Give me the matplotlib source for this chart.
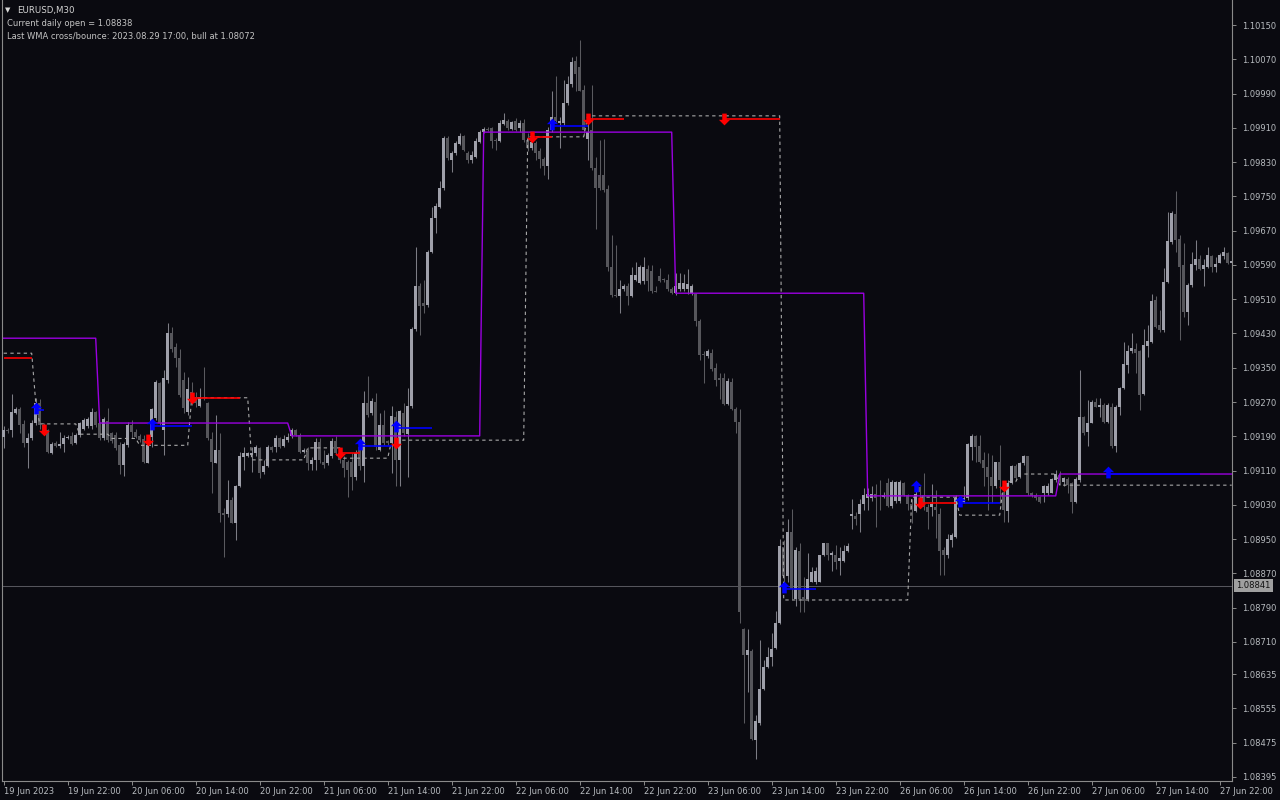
import numpy as np
import matplotlib
matplotlib.use("Agg")
import matplotlib.pyplot as plt
from matplotlib.path import Path

# ---------------- data (prices in points: price = 1 + pts / 1e5) ----------------
open_pts = [
 9189,9205,9205,9245,9254,9218,9175,9185,9222,9267,9216,9205,9152,9175,9168,9172,9185,9191,9175,9193,
 9208,9214,9214,9247,9220,9185,9226,9198,9193,9170,9123,9170,9216,9201,9191,9183,9128,9189,9232,9314,
 9205,9321,9432,9399,9372,9321,9247,9294,9282,9261,9281,9267,9183,9128,9159,9010,9008,9041,8988,9074,
 9141,9144,9146,9152,9162,9107,9121,9164,9166,9185,9167,9181,9190,9205,9193,9154,9156,9125,9135,9177,
 9131,9127,9143,9180,9151,9135,9131,9131,9096,9166,9120,9267,9244,9269,9158,9217,9178,9174,9236,9135,
 9244,9196,9260,9440,9540,9502,9497,9621,9699,9726,9769,9886,9835,9851,9873,9891,9851,9835,9843,9878,
 9900,9908,9909,9880,9880,9919,9927,9908,9927,9909,9921,9882,9862,9874,9855,9837,9820,9905,9935,9921,
 9921,9968,10012,10065,10053,9999,9883,9905,9816,9800,9800,9767,9585,9520,9518,9533,9540,9518,9555,9547,
 9552,9580,9575,9530,9565,9556,9555,9535,9524,9535,9535,9535,9524,9522,9459,9381,9378,9385,9349,9327,
 9327,9266,9317,9254,9224,8740,8679,8689,8481,8522,8600,8651,8674,8696,8755,8932,8863,8967,8810,8922,
 8816,8810,8851,8849,8851,8912,8940,8912,8912,8900,8900,8922,9003,9005,9008,9031,9045,9045,9056,9049,
 9048,9082,9028,9038,9038,9082,9052,9031,9015,9071,9052,9025,9025,9025,9008,8924,8912,8948,8956,9045,
 9037,9045,9166,9191,9167,9135,9119,9096,9074,9129,9060,9016,9080,9121,9096,9127,9143,9058,9053,9048,
 9057,9057,9058,9088,9100,9084,9090,9080,9037,9088,9234,9199,9222,9269,9259,9263,9224,9259,9167,9258,
 9302,9356,9388,9393,9388,9289,9401,9409,9508,9450,9437,9551,9644,9709,9650,9590,9481,9543,9590,9605,
 9580,9586,9611,9586,9595,9611,9617,9595]
high_pts = [
 9214,9210,9288,9258,9259,9228,9197,9228,9279,9277,9222,9208,9177,9180,9201,9193,9192,9201,9197,9224,
 9232,9234,9255,9250,9224,9236,9255,9201,9201,9177,9177,9224,9228,9208,9195,9193,9193,9255,9321,9317,
 9345,9455,9446,9407,9393,9341,9329,9317,9294,9302,9352,9271,9201,9240,9198,9022,9088,9049,9076,9154,
 9166,9154,9166,9170,9166,9135,9170,9168,9193,9189,9193,9197,9210,9208,9197,9162,9166,9141,9185,9185,
 9158,9151,9186,9190,9155,9143,9135,9151,9158,9172,9295,9331,9280,9291,9244,9252,9182,9260,9248,9252,
 9267,9302,9446,9633,9547,9555,9625,9726,9734,9785,9890,9890,9855,9880,9897,9894,9855,9855,9886,9905,
 9913,9912,9913,9886,9929,9944,9930,9927,9932,9929,9930,9897,9880,9880,9862,9843,9913,9997,10030,9936,
 10022,10030,10076,10078,10115,10010,9929,10010,9843,9882,9883,9777,9660,9637,9555,9545,9547,9586,9596,9590,
 9608,9590,9590,9540,9582,9560,9570,9538,9572,9572,9570,9580,9545,9524,9464,9388,9393,9393,9362,9337,
 9337,9327,9327,9258,9254,8742,8740,8694,8539,8714,8669,8699,8730,8782,8950,8947,8998,9021,8932,8942,
 8861,8917,8886,8886,8914,8942,8942,8922,8937,8932,8937,8940,9043,9013,9043,9069,9069,9074,9079,9089,
 9060,9092,9089,9086,9089,9084,9056,9043,9079,9075,9104,9033,9079,9064,9023,8932,8962,8964,9053,9053,
 9073,9175,9195,9193,9193,9154,9152,9146,9131,9170,9076,9088,9123,9125,9131,9146,9144,9061,9057,9051,
 9076,9080,9092,9111,9108,9096,9096,9084,9096,9345,9237,9275,9275,9279,9279,9267,9267,9267,9263,9306,
 9409,9403,9430,9407,9391,9440,9450,9522,9518,9485,9582,9714,9717,9763,9660,9642,9547,9621,9648,9613,
 9605,9631,9613,9609,9617,9633,9621,9604]
low_pts = [
 9162,9198,9189,9242,9197,9166,9115,9181,9216,9208,9195,9150,9149,9164,9162,9154,9183,9170,9172,9189,
 9205,9210,9208,9212,9181,9181,9177,9175,9158,9103,9097,9166,9185,9185,9177,9127,9127,9165,9228,9216,
 9146,9314,9387,9352,9282,9244,9240,9263,9259,9259,9275,9181,9057,9127,8991,8909,9002,8987,8948,9072,
 9111,9141,9107,9143,9092,9103,9119,9154,9154,9162,9166,9177,9187,9190,9150,9150,9111,9111,9111,9127,
 9116,9124,9139,9147,9127,9096,9048,9065,9088,9112,9084,9236,9240,9158,9155,9170,9170,9104,9073,9073,
 9190,9096,9256,9435,9427,9477,9493,9617,9664,9722,9765,9835,9808,9847,9870,9855,9827,9827,9839,9874,
 9897,9903,9862,9859,9878,9917,9905,9905,9902,9901,9878,9855,9859,9835,9816,9800,9790,9901,9923,9862,
 9917,9964,10006,9995,9995,9894,9835,9812,9673,9765,9761,9577,9516,9516,9477,9530,9497,9516,9552,9545,
 9545,9529,9524,9527,9550,9550,9529,9522,9519,9529,9529,9522,9519,9448,9367,9315,9373,9342,9307,9278,
 9264,9264,9252,9197,8755,8522,8593,8481,8436,8517,8598,8649,8654,8694,8752,8846,8851,8810,8795,8780,
 8780,8805,8849,8846,8849,8910,8902,8876,8881,8866,8897,8920,8973,8983,8967,9018,9018,9038,8978,9018,
 9045,9026,9023,9035,9035,9050,9018,8988,9013,9050,9018,8973,9003,8952,8866,8866,8907,8932,8952,9035,
 9034,9041,9135,9131,9127,9073,9018,9034,9069,9034,8991,8991,9079,9090,9092,9123,9053,9049,9041,9035,
 9037,9053,9057,9084,9076,9073,9057,9010,9035,9084,9193,9167,9220,9258,9236,9220,9220,9162,9154,9240,
 9300,9337,9384,9337,9251,9286,9376,9407,9442,9434,9434,9547,9640,9621,9415,9469,9450,9539,9578,9578,
 9541,9584,9574,9574,9594,9605,9592,9592]
close_pts = [
 9205,9203,9247,9254,9216,9175,9187,9222,9267,9216,9200,9154,9173,9168,9173,9187,9189,9173,9193,9220,
 9228,9230,9247,9216,9185,9230,9181,9179,9163,9123,9172,9216,9201,9189,9181,9131,9170,9253,9317,9222,
 9325,9432,9393,9372,9286,9255,9300,9271,9267,9281,9279,9187,9131,9159,9010,9006,9041,8988,9074,9144,
 9150,9150,9152,9164,9105,9121,9164,9158,9185,9166,9183,9189,9205,9193,9154,9158,9127,9135,9177,9135,
 9122,9147,9180,9151,9135,9116,9112,9095,9151,9120,9267,9240,9273,9166,9217,9174,9174,9238,9135,9248,
 9197,9261,9440,9540,9494,9494,9621,9699,9728,9769,9886,9839,9851,9874,9891,9859,9835,9847,9880,9900,
 9908,9906,9880,9879,9921,9929,9909,9923,9905,9921,9882,9862,9876,9852,9837,9820,9905,9936,9925,9926,
 9968,10013,10063,10036,9997,9905,9901,9817,9769,9769,9765,9585,9520,9518,9533,9540,9518,9567,9567,9586,
 9585,9552,9529,9528,9552,9555,9535,9524,9540,9548,9548,9545,9540,9459,9380,9380,9388,9347,9322,9322,
 9266,9319,9254,9224,8780,8679,8691,8484,8525,8600,8651,8676,8694,8755,8934,8863,8967,8833,8924,8810,
 8805,8856,8873,8876,8912,8940,8912,8917,8897,8907,8922,8934,9008,8998,9031,9054,9056,9056,9045,9048,
 9054,9028,9084,9084,9084,9052,9033,9018,9056,9059,9025,9013,9033,9018,8922,8912,8950,8960,9045,9041,
 9045,9172,9191,9166,9131,9115,9096,9074,9129,9088,9018,9082,9121,9092,9127,9143,9057,9051,9045,9037,
 9073,9074,9090,9102,9084,9092,9076,9037,9090,9234,9197,9222,9269,9259,9263,9224,9263,9167,9259,9302,
 9359,9388,9395,9385,9286,9403,9413,9507,9446,9438,9551,9647,9712,9648,9586,9481,9543,9592,9604,9580,
 9590,9613,9586,9592,9613,9621,9595,9600]

# time axis labels (one every 8 hours = 16 bars of M30)
time_labels = ["19 Jun 2023", "19 Jun 22:00", "20 Jun 06:00", "20 Jun 14:00", "20 Jun 22:00",
               "21 Jun 06:00", "21 Jun 14:00", "21 Jun 22:00", "22 Jun 06:00", "22 Jun 14:00",
               "22 Jun 22:00", "23 Jun 06:00", "23 Jun 14:00", "23 Jun 22:00", "26 Jun 06:00",
               "26 Jun 14:00", "26 Jun 22:00", "27 Jun 06:00", "27 Jun 14:00", "27 Jun 22:00"]
bars_per_label = 16

price_ticks = [1.10150, 1.10070, 1.09990, 1.09910, 1.09830, 1.09750, 1.09670, 1.09590,
               1.09510, 1.09430, 1.09350, 1.09270, 1.09190, 1.09110, 1.09030, 1.08950,
               1.08870, 1.08790, 1.08710, 1.08635, 1.08555, 1.08475, 1.08395]

# indicator levels: (first bar, last bar, level in points)
purple_segments = [(0, 23, 9419), (24, 71, 9221), (72, 119, 9191), (120, 167, 9900),
                   (168, 215, 9524), (216, 263, 9051), (264, 307, 9102)]
dashed_segments = [(0, 7, 9384), (8, 8, 9270), (9, 18, 9219), (19, 26, 9195), (27, 33, 9185),
                   (34, 46, 9169), (47, 61, 9280), (62, 75, 9135), (76, 84, 9163), (85, 96, 9139),
                   (97, 130, 9181), (131, 145, 9889), (146, 194, 9938), (195, 226, 8808),
                   (227, 238, 9048), (239, 249, 9006), (250, 253, 9084), (254, 263, 9102),
                   (264, 307, 9076)]
red_lines = [(0, 7, 9372), (47, 59, 9279), (84, 89, 9152), (132, 137, 9889), (146, 155, 9930),
             (180, 194, 9930), (229, 238, 9035)]
red_arrows = [(10, 9205), (36, 9181), (47, 9279), (84, 9152), (98, 9174), (132, 9889),
              (146, 9930), (180, 9930), (229, 9035), (250, 9074)]
blue_lines = [(8, 10, 9251), (37, 47, 9215), (89, 97, 9167), (98, 107, 9209), (137, 146, 9914),
              (195, 203, 8834), (239, 249, 9034), (276, 299, 9103)]
blue_arrows = [(8, 9251), (37, 9215), (89, 9167), (98, 9209), (137, 9914), (195, 8834),
               (228, 9069), (239, 9034), (276, 9103)]

current_price = 1.08841
header_lines = ["EURUSD,M30", "Current daily open = 1.08838",
                "Last WMA cross/bounce: 2023.08.29 17:00, bull at 1.08072"]

# ---------------- styling ----------------
BG = "#0a0a10"
BULL = "#9fa0aa"
BEAR = "#56565b"
WICK_BULL = "#7c7c84"
WICK_BEAR = "#5a5a5f"
AXC = "#8a8a8a"
TXT = "#b8bcc0"


def to_price(v):
    return 1.0 + np.asarray(v, dtype=float) / 1e5


O = to_price(open_pts)
H = to_price(high_pts)
L = to_price(low_pts)
C = to_price(close_pts)
n = len(O)
x = np.arange(n)

fig = plt.figure(figsize=(12.8, 8.0), dpi=100, facecolor=BG)
ax = fig.add_axes([2 / 1280, 1 - 781 / 800, 1230 / 1280, 781 / 800])
ax.set_facecolor(BG)

# candles
bull = C >= O
ax.vlines(x[bull], L[bull], H[bull], color=WICK_BULL, lw=0.75, zorder=2)
ax.vlines(x[~bull], L[~bull], H[~bull], color=WICK_BEAR, lw=0.75, zorder=2)
body_lo = np.minimum(O, C)
body_h = np.maximum(np.abs(C - O), 0.000015)
ax.bar(x[bull], body_h[bull], bottom=body_lo[bull], width=0.72, color=BULL, lw=0, zorder=3)
ax.bar(x[~bull], body_h[~bull], bottom=body_lo[~bull], width=0.72, color=BEAR, lw=0, zorder=3)


def seg_series(segs):
    s = np.full(n, np.nan)
    for a, b, v in segs:
        s[a:b + 1] = v
    return to_price(s)


# current price line
ax.axhline(current_price, color="#55555c", lw=0.75, zorder=1)

# indicator lines
ax.plot(x, seg_series(dashed_segments), color="#a8a8a8", lw=0.8, ls=(0, (3, 3)), zorder=4)
ax.plot(x, seg_series(purple_segments), color="#9a00e0", lw=1.0, zorder=5)

for a, b, v in red_lines:
    ax.hlines(to_price(v), a, b, color="#ff0000", lw=1.2, zorder=6)
for a, b, v in blue_lines:
    ax.hlines(to_price(v), a, b, color="#0000ff", lw=1.2, zorder=6)

up_verts = [(0, 1), (0.95, 0.05), (0.38, 0.05), (0.38, -1), (-0.38, -1), (-0.38, 0.05),
            (-0.95, 0.05), (0, 1)]
up_arrow = Path(up_verts, [Path.MOVETO] + [Path.LINETO] * 6 + [Path.CLOSEPOLY])
down_arrow = Path([(px, -py) for px, py in up_verts],
                  [Path.MOVETO] + [Path.LINETO] * 6 + [Path.CLOSEPOLY])

ax.plot([b for b, v in red_arrows], to_price([v for b, v in red_arrows]), ls="none",
        marker=down_arrow, ms=8.5, color="#ff0000", mec="none", zorder=7)
ax.plot([b for b, v in blue_arrows], to_price([v for b, v in blue_arrows]) + 0.00004, ls="none",
        marker=up_arrow, ms=8.5, color="#0000ff", mec="none", zorder=7)

# axes limits (pixel aligned: bar i at x = 3.7 + 4 i)
ax.set_xlim(-0.425, 307.075)
ax.set_ylim(1.083855, 1.102084)

# spines
ax.spines["top"].set_visible(False)
for side in ["left", "right", "bottom"]:
    ax.spines[side].set_color(AXC)
    ax.spines[side].set_linewidth(0.8)

# y ticks on right
ax.yaxis.tick_right()
ax.set_yticks(price_ticks)
ax.set_yticklabels([f"{p:.5f}" for p in price_ticks])
ax.tick_params(axis="y", direction="out", length=3, width=0.7, color=AXC,
               labelcolor=TXT, labelsize=6, pad=4)

# x ticks
tick_pos = [k * bars_per_label for k in range(len(time_labels))]
ax.set_xticks(tick_pos)
ax.set_xticklabels(time_labels)
for lab in ax.get_xticklabels():
    lab.set_horizontalalignment("left")
ax.tick_params(axis="x", direction="out", length=3, width=0.7, color=AXC,
               labelcolor=TXT, labelsize=6, pad=1.5)

# current price label box
ax.text(1.0035, current_price, f"{current_price:.5f}", transform=ax.get_yaxis_transform(),
        ha="left", va="center", fontsize=6, color="#111111", zorder=10, clip_on=False,
        bbox=dict(boxstyle="square,pad=0.25", fc="#a0a0a0", ec="none"))

# header text
fig.text(5 / 1280, 1 - 10 / 800, "\u25bc", fontsize=5, color="#d8d8d8", va="center", ha="left")
fig.text(17 / 1280, 1 - 10 / 800, header_lines[0], fontsize=6.2, color="#d4d4d4",
         va="center", ha="left")
fig.text(7 / 1280, 1 - 23 / 800, header_lines[1], fontsize=6.0, color="#c4c4c4",
         va="center", ha="left")
fig.text(7 / 1280, 1 - 36 / 800, header_lines[2], fontsize=6.0, color="#c4c4c4",
         va="center", ha="left")

fig.savefig("out.png", dpi=100, facecolor=BG)
